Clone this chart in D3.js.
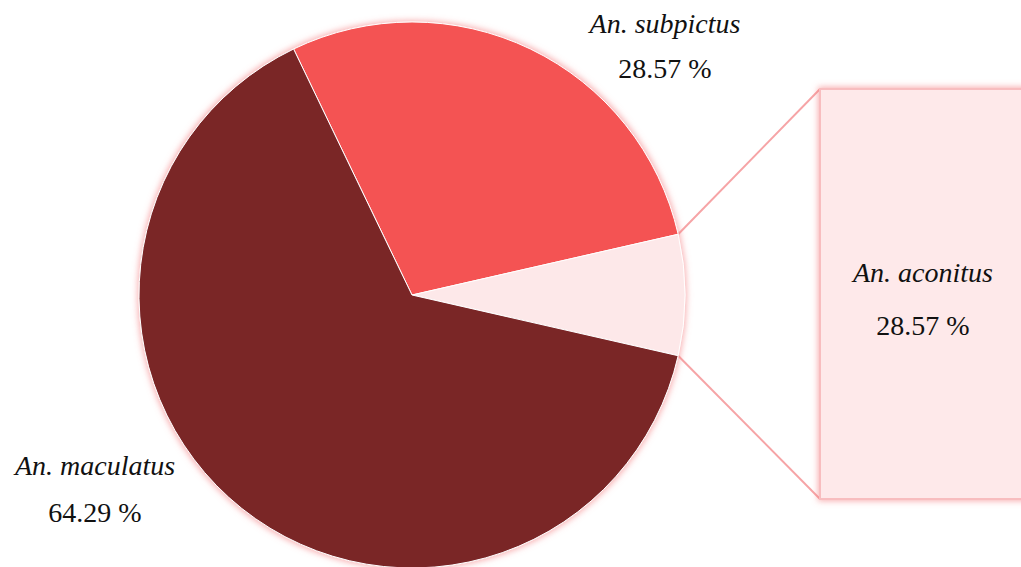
<!DOCTYPE html>
<html>
<head>
<meta charset="utf-8">
<script src="https://cdn.jsdelivr.net/npm/d3@7"></script>
</head>
<body style="margin:0">
<div id="wrap" style="position:relative;width:1021px;height:567px;overflow:hidden">
<svg id="chart" width="1021" height="567" style="position:absolute;left:0;top:0"></svg>
</div>
<script>
// data
var species = ["An. subpictus", "An. aconitus", "An. maculatus"];
var shares = [28.57, 7.14, 64.29];
var shareLabels = ["28.57 %", "28.57 %", "64.29 %"];
var colors = ["#f45253", "#fde8e9", "#7a2528"];

var width = 1021, height = 567;
var cx = 412, cy = 295, radius = 273;

// label anchors (name baseline, value baseline)
var labelPos = [[665, 33, 78], [923, 282, 335], [95, 475, 522]];

var svg = d3.select("#chart");
var defs = svg.append("defs");

var glow = defs.append("filter").attr("id", "glow")
    .attr("x", "-10%").attr("y", "-10%").attr("width", "120%").attr("height", "120%");
glow.append("feMorphology").attr("in", "SourceAlpha").attr("operator", "dilate").attr("radius", 1).attr("result", "d");
glow.append("feGaussianBlur").attr("in", "d").attr("stdDeviation", 3).attr("result", "b");
glow.append("feFlood").attr("flood-color", "#f4777a").attr("flood-opacity", 0.6);
glow.append("feComposite").attr("in2", "b").attr("operator", "in").attr("result", "g");
var m = glow.append("feMerge");
m.append("feMergeNode").attr("in", "g");
m.append("feMergeNode").attr("in", "SourceGraphic");

var total = d3.sum(shares);
// aconitus slice is centred on the horizontal, pointing right
var start = Math.PI / 2 - (shares[0] + shares[1] / 2) / total * 2 * Math.PI;

var pie = d3.pie().sort(null).value(function(d) { return d; })
    .startAngle(start).endAngle(start + 2 * Math.PI);
var arcs = pie(shares);
var arc = d3.arc().innerRadius(0).outerRadius(radius);

// zoom box for the small slice
var box = { x: 820, y: 89, w: 240, h: 410 };
var ac = arcs[1];
function edgePoint(a) { return [cx + radius * Math.sin(a), cy - radius * Math.cos(a)]; }
var p1 = edgePoint(ac.startAngle), p2 = edgePoint(ac.endAngle);

svg.append("line")
    .attr("x1", p1[0]).attr("y1", p1[1]).attr("x2", box.x).attr("y2", box.y)
    .attr("stroke", "#f6a4a6").attr("stroke-width", 2);
svg.append("line")
    .attr("x1", p2[0]).attr("y1", p2[1]).attr("x2", box.x).attr("y2", box.y + box.h)
    .attr("stroke", "#f6a4a6").attr("stroke-width", 2);

svg.append("rect")
    .attr("x", box.x).attr("y", box.y).attr("width", box.w).attr("height", box.h)
    .attr("fill", "#fee9ea").attr("stroke", "#f8bdbf").attr("stroke-width", 2)
    .attr("filter", "url(#glow)");

var g = svg.append("g").attr("transform", "translate(" + cx + "," + cy + ")")
    .attr("filter", "url(#glow)");
g.selectAll("path").data(arcs).enter().append("path")
    .attr("d", arc)
    .attr("fill", function(d, i) { return colors[i]; })
    .attr("stroke", "#fff").attr("stroke-width", 1);

// labels as html over the svg, baseline placed via line-height
var wrap = d3.select("#wrap");
function addLabel(txt, x, baseline, italic) {
  wrap.append("div")
      .style("position", "absolute")
      .style("left", (x - 150) + "px")
      .style("width", "300px")
      .style("top", (baseline - 25) + "px")
      .style("height", "32px")
      .style("line-height", "32px")
      .style("text-align", "center")
      .style("white-space", "nowrap")
      .style("font-family", "'Liberation Serif', 'Times New Roman', Tinos")
      .style("font-size", "28px")
      .style("font-style", italic ? "italic" : "normal")
      .style("color", "#111")
      .text(txt);
}
species.forEach(function(name, i) {
  addLabel(name, labelPos[i][0], labelPos[i][1], true);
  addLabel(shareLabels[i], labelPos[i][0], labelPos[i][2], false);
});
</script>
</body>
</html>
